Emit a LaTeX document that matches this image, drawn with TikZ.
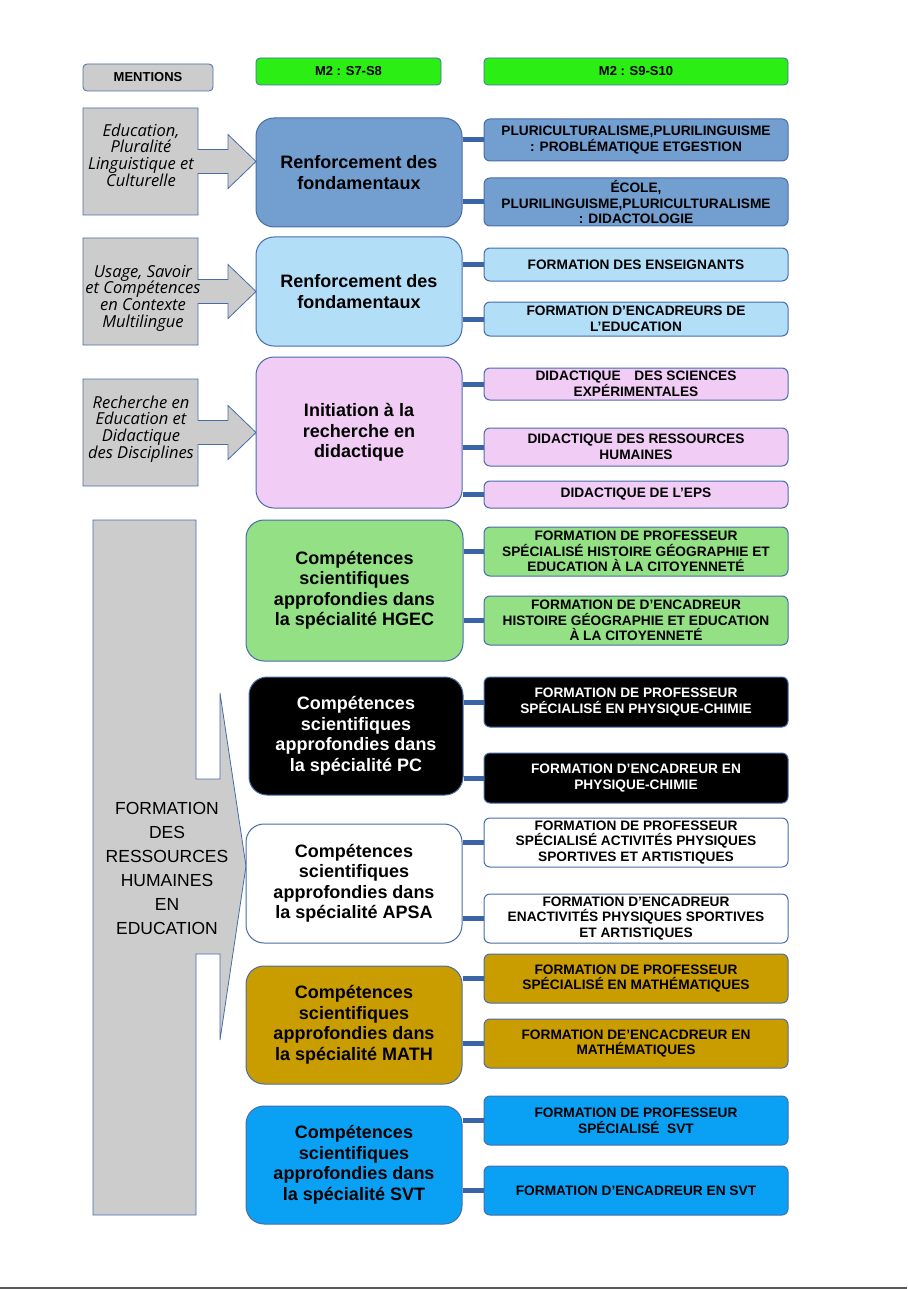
\documentclass[tikz,border=0pt]{standalone}
\usepackage{fontspec}
\setmainfont{Liberation Sans}
\newfontfamily\mentionfont{Open Sans}

\definecolor{concrete}{RGB}{204,204,204}
\definecolor{edgeblue}{RGB}{72,108,170}
\definecolor{linkblue}{RGB}{58,100,165}
\definecolor{headgreen}{RGB}{42,238,20}
\definecolor{fondblue}{RGB}{114,159,207}
\definecolor{skyblue}{RGB}{178,222,248}
\definecolor{lilac}{RGB}{241,204,245}
\definecolor{leafgreen}{RGB}{147,224,133}
\definecolor{mustard}{RGB}{201,156,0}
\definecolor{svtblue}{RGB}{10,161,245}

% gray arrow of a mention, #1 = vertical centre
\newcommand{\mentionarrow}[1]{\draw[mention] (83,#1-53.5) -- (198,#1-53.5) -- (198,#1-12) -- (228,#1-12) -- (228,#1-27) -- (256,#1) -- (228,#1+27) -- (228,#1+12) -- (198,#1+12) -- (198,#1+53.5) -- (83,#1+53.5) -- cycle;}

\begin{document}
\begin{tikzpicture}[x=1pt, y=-1pt,
  head/.style={draw=edgeblue, line width=0.8pt, rounded corners=4pt, minimum height=27pt, inner sep=0pt, font=\fontsize{13}{15}\selectfont\bfseries},
  main/.style={draw=edgeblue, line width=1pt, rounded corners=18pt, align=center, inner sep=2pt, font=\fontsize{18}{20.5}\selectfont\bfseries},
  box/.style={draw=edgeblue, line width=1pt, rounded corners=6pt, align=center, minimum width=304pt, inner sep=1pt, font=\fontsize{13.7}{15.6}\selectfont\bfseries},
  link/.style={draw=linkblue, line width=5pt},
  mention/.style={draw=edgeblue, line width=0.8pt, fill=concrete},
  mentiontext/.style={align=center, font=\mentionfont\itshape\fontsize{16.5}{16.7}\selectfont}]
\useasboundingbox (0,0) rectangle (907,1289);

% headers
\node[head, fill=concrete, minimum width=130pt] (ment) at (148,77.5) {MENTIONS};
\node[head, fill=headgreen, minimum width=185pt] (hs7) at (348.5,71.5) {M2 : S7-S8};
\node[head, fill=headgreen, minimum width=304pt] (hs9) at (636,71.5) {M2 : S9-S10};

% mentions
\mentionarrow{161.5}
\mentionarrow{291.5}
\mentionarrow{432.5}
\node[mentiontext] (l1) at (141,155) {Education,\\Pluralité\\Linguistique et\\Culturelle};
\node[mentiontext] (l2) at (143,298) {Usage, Savoir\\et Compétences\\en Contexte\\Multilingue};
\node[mentiontext] (l3) at (141,429) {Recherche en\\Education et\\Didactique\\des Disciplines};
\draw[mention] (93,520) -- (196,520) -- (196,779) -- (220,779) -- (220,693) -- (246,866) -- (220,1040) -- (220,954) -- (196,954) -- (196,1215) -- (93,1215) -- cycle;
\node[align=center, font=\fontsize{17.5}{24}\selectfont] (frh) at (167,868) {FORMATION\\DES\\RESSOURCES\\HUMAINES\\EN\\EDUCATION};

% S7-S8
\node[main, fill=fondblue, minimum width=206pt, minimum height=109pt] (m1) at (359,172.5) {Renforcement des\\fondamentaux};
\node[main, fill=skyblue, minimum width=206pt, minimum height=109pt] (m2) at (359,291.5) {Renforcement des\\fondamentaux};
\node[main, fill=lilac, minimum width=206pt, minimum height=151pt] (m3) at (359,432.5) {Initiation à la\\recherche en\\didactique};
\node[main, fill=leafgreen, minimum width=217pt, minimum height=141pt] (m4) at (354.5,590.5) {Compétences\\scientifiques\\approfondies dans\\la spécialité HGEC};
\node[main, fill=black, text=white, minimum width=214pt, minimum height=118pt] (m5) at (356,736) {Compétences\\scientifiques\\approfondies dans\\la spécialité PC};
\node[main, fill=white, minimum width=216pt, minimum height=119pt] (m6) at (354,883.5) {Compétences\\scientifiques\\approfondies dans\\la spécialité APSA};
\node[main, fill=mustard, minimum width=216pt, minimum height=118pt] (m7) at (354,1025) {Compétences\\scientifiques\\approfondies dans\\la spécialité MATH};
\node[main, fill=svtblue, minimum width=216pt, minimum height=118pt] (m8) at (354,1165) {Compétences\\scientifiques\\approfondies dans\\la spécialité SVT};

% S9-S10
\node[box, fill=fondblue, minimum height=42pt] (r1a) at (636,140) {PLURICULTURALISME,PLURILINGUISME\\: PROBLÉMATIQUE ETGESTION};
\node[box, fill=fondblue, minimum height=48pt] (r1b) at (636,202) {ÉCOLE,\\PLURILINGUISME,PLURICULTURALISME\\: DIDACTOLOGIE};
\node[box, fill=skyblue, minimum height=33pt] (r2a) at (636,264.5) {FORMATION DES ENSEIGNANTS};
\node[box, fill=skyblue, minimum height=34pt] (r2b) at (636,319) {FORMATION D'ENCADREURS DE\\L’EDUCATION};
\node[box, fill=lilac, minimum height=32pt] (r3a) at (636,384) {DIDACTIQUE\quad DES SCIENCES\\EXPÉRIMENTALES};
\node[box, fill=lilac, minimum height=38pt] (r3b) at (636,447) {DIDACTIQUE DES RESSOURCES\\HUMAINES};
\node[box, fill=lilac, minimum height=27pt] (r3c) at (636,494.5) {DIDACTIQUE DE L’EPS};
\node[box, fill=leafgreen, minimum height=49pt] (r4a) at (636,551.5) {FORMATION DE PROFESSEUR\\SPÉCIALISÉ HISTOIRE GÉOGRAPHIE ET\\EDUCATION À LA CITOYENNETÉ};
\node[box, fill=leafgreen, minimum height=49pt] (r4b) at (636,620.5) {FORMATION DE D’ENCADREUR\\HISTOIRE GÉOGRAPHIE ET EDUCATION\\À LA CITOYENNETÉ};
\node[box, fill=black, text=white, minimum height=50pt] (r5a) at (636,702) {FORMATION DE PROFESSEUR\\SPÉCIALISÉ EN PHYSIQUE-CHIMIE};
\node[box, fill=black, text=white, minimum height=50pt] (r5b) at (636,778) {FORMATION D’ENCADREUR EN\\PHYSIQUE-CHIMIE};
\node[box, fill=white, minimum height=49pt] (r6a) at (636,842.5) {FORMATION DE PROFESSEUR\\SPÉCIALISÉ ACTIVITÉS PHYSIQUES\\SPORTIVES ET ARTISTIQUES};
\node[box, fill=white, minimum height=49pt] (r6b) at (636,918.5) {FORMATION D’ENCADREUR\\ENACTIVITÉS PHYSIQUES SPORTIVES\\ET ARTISTIQUES};
\node[box, fill=mustard, minimum height=49pt] (r7a) at (636,978.5) {FORMATION DE PROFESSEUR\\SPÉCIALISÉ EN MATHÉMATIQUES};
\node[box, fill=mustard, minimum height=49pt] (r7b) at (636,1043.5) {FORMATION DE’ENCACDREUR EN\\MATHÉMATIQUES};
\node[box, fill=svtblue, minimum height=49pt] (r8a) at (636,1120.5) {FORMATION DE PROFESSEUR\\SPÉCIALISÉ\ \ SVT};
\node[box, fill=svtblue, minimum height=49pt] (r8b) at (636,1190.5) {FORMATION D’ENCADREUR EN SVT};

% links
\draw[link] (m1.east |- r1a) -- (r1a); \draw[link] (m1.east |- r1b) -- (r1b);
\draw[link] (m2.east |- r2a) -- (r2a); \draw[link] (m2.east |- r2b) -- (r2b);
\draw[link] (m3.east |- r3a) -- (r3a); \draw[link] (m3.east |- r3b) -- (r3b); \draw[link] (m3.east |- r3c) -- (r3c);
\draw[link] (m4.east |- r4a) -- (r4a); \draw[link] (m4.east |- r4b) -- (r4b);
\draw[link] (m5.east |- r5a) -- (r5a); \draw[link] (m5.east |- r5b) -- (r5b);
\draw[link] (m6.east |- r6a) -- (r6a); \draw[link] (m6.east |- r6b) -- (r6b);
\draw[link] (m7.east |- r7a) -- (r7a); \draw[link] (m7.east |- r7b) -- (r7b);
\draw[link] (m8.east |- r8a) -- (r8a); \draw[link] (m8.east |- r8b) -- (r8b);

\draw[black!65, line width=1.2pt] (0,1288) -- (907,1288);
\end{tikzpicture}
\end{document}
